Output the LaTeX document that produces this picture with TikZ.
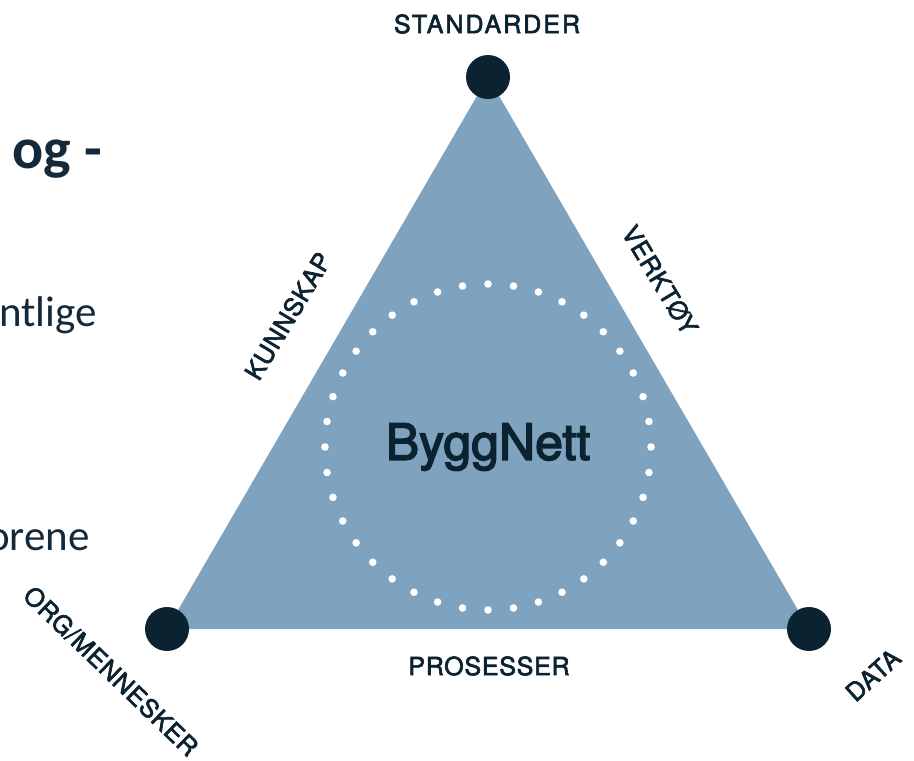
\documentclass[tikz,border=0pt]{standalone}
\usepackage{fontspec}
\setmainfont{TeX Gyre Heros}
\newfontfamily\labfont[LetterSpace=3, FakeBold=2.5]{TeX Gyre Heros}
\newfontfamily\widelabfont[LetterSpace=8, FakeBold=2.5]{TeX Gyre Heros}
\newfontfamily\titlefont[FakeBold=3]{TeX Gyre Heros}
\newfontfamily\bodyfont{Carlito}
\definecolor{trifill}{HTML}{7FA2BE}
\definecolor{navy}{HTML}{0B2230}
\definecolor{bodytext}{HTML}{14293A}
\tikzset{
  vertex/.style={circle, fill=navy, minimum size=44pt, inner sep=0pt},
  edgelabel/.style={font=\labfont\fontsize{25}{25}\selectfont, text=navy, inner sep=0pt, anchor=center},
  bodyline/.style={font=\bodyfont\fontsize{43}{43}\selectfont, text=bodytext, inner sep=0pt, anchor=base east},
  whitedot/.style={fill=white},
}
\begin{document}
\begin{tikzpicture}[x=1pt,y=-1pt]
\useasboundingbox (0,0) rectangle (914,761);
% vertices
\coordinate (ptop) at (488,77);
\coordinate (pbl) at (167,629);
\coordinate (pbr) at (809,629);
\fill[trifill] (ptop) -- (pbl) -- (pbr) -- cycle;
\node[vertex] (top) at (ptop) {};
\node[vertex] (bl) at (pbl) {};
\node[vertex] (br) at (pbr) {};
% dotted ring
\foreach \i in {0,...,39}{
  \fill[whitedot] ({488+163*cos(9*\i)},{447+163*sin(9*\i)}) circle[radius=3.8pt];
}
\node[font=\titlefont\fontsize{50}{50}\selectfont, text=navy, inner sep=0pt] (center) at (488,447) {ByggNett};
% edge labels
\node[edgelabel, font=\widelabfont\fontsize{25}{25}\selectfont] (standarder) at (487,24) {STANDARDER};
\node[edgelabel] (prosesser) at (489,666) {PROSESSER};
\node[edgelabel, rotate=59] (kunnskap) at (288,316) {KUNNSKAP};
\node[edgelabel, rotate=-59] (verktoy) at (660,280) {VERKTØY};
\node[edgelabel, rotate=-44] (org) at (111,671) {ORG/MENNESKER};
\node[edgelabel, rotate=42] (data) at (873,675) {DATA};
% left text fragments
\node[font=\bodyfont\bfseries\fontsize{58}{58}\selectfont, text=bodytext, inner sep=0pt, anchor=base west] (og) at (12,168) {og -};
\node[bodyline] (ntlige) at (97,326) {ntlige};
\node[bodyline] (orene) at (90,550) {orene};
\end{tikzpicture}
\end{document}
